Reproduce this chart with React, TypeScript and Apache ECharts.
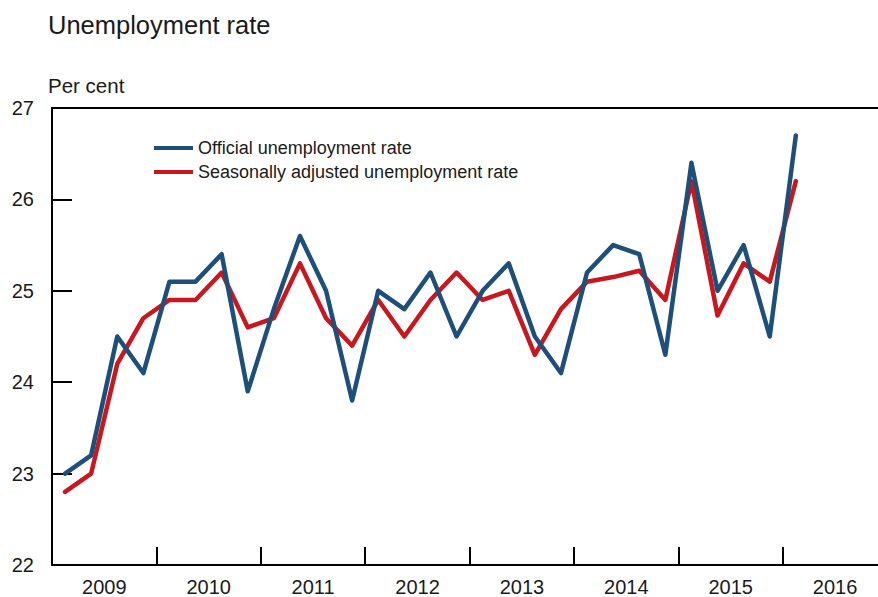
import React, { useEffect, useRef } from "react";
import * as echarts from "echarts";

const quarters = [
  "2009Q1", "2009Q2", "2009Q3", "2009Q4",
  "2010Q1", "2010Q2", "2010Q3", "2010Q4",
  "2011Q1", "2011Q2", "2011Q3", "2011Q4",
  "2012Q1", "2012Q2", "2012Q3", "2012Q4",
  "2013Q1", "2013Q2", "2013Q3", "2013Q4",
  "2014Q1", "2014Q2", "2014Q3", "2014Q4",
  "2015Q1", "2015Q2", "2015Q3", "2015Q4",
  "2016Q1",
];

const official = [
  23.0, 23.2, 24.5, 24.1, 25.1, 25.1, 25.4, 23.9, 24.8, 25.6, 25.0, 23.8, 25.0, 24.8, 25.2,
  24.5, 25.0, 25.3, 24.5, 24.1, 25.2, 25.5, 25.4, 24.3, 26.4, 25.0, 25.5, 24.5, 26.7,
];

const seasonal = [
  22.8, 23.0, 24.2, 24.7, 24.9, 24.9, 25.2, 24.6, 24.7, 25.3, 24.7, 24.4, 24.9, 24.5, 24.9,
  25.2, 24.9, 25.0, 24.3, 24.8, 25.1, 25.15, 25.22, 24.9, 26.2, 24.73, 25.3, 25.1, 26.2,
];

const yMin = 22;
const yMax = 27;
const xMin = 2009;
const xMax = 2016.912;

const quarterToX = (q: string) => {
  const year = parseInt(q.slice(0, 4), 10);
  const qn = parseInt(q.slice(5), 10);
  return year + (qn - 0.5) / 4;
};

export default function App() {
  const ref = useRef<HTMLDivElement>(null);

  useEffect(() => {
    document.body.style.margin = "0";
    if (!ref.current) return;
    const chart = echarts.init(ref.current, undefined, { renderer: "svg" });
    const font = "'Liberation Sans', Arial, sans-serif";
    const yearPx = (878 + 2 - 52) / (xMax - xMin);

    chart.setOption({
      animation: false,
      backgroundColor: "#ffffff",
      title: [
        {
          text: "Unemployment rate",
          left: 48,
          top: 12,
          padding: 0,
          textStyle: { fontFamily: font, fontSize: 25.5, fontWeight: "normal", color: "#1a1a1a" },
        },
        {
          text: "Per cent",
          left: 48,
          top: 75,
          padding: 0,
          textStyle: { fontFamily: font, fontSize: 20.5, fontWeight: "normal", color: "#1a1a1a" },
        },
      ],
      legend: {
        data: ["Official unemployment rate", "Seasonally adjusted unemployment rate"],
        orient: "vertical",
        left: 154,
        top: 139,
        padding: 0,
        itemGap: 6,
        itemWidth: 39,
        itemHeight: 4,
        itemTextGap: 12,
        icon: "rect",
        textStyle: { fontFamily: font, fontSize: 18, color: "#1a1a1a" },
      },
      grid: { left: 52, right: -2, top: 108, bottom: 32, containLabel: false },
      xAxis: [
        {
          type: "value",
          min: xMin,
          max: xMax,
          interval: 1,
          position: "bottom",
          splitLine: { show: false },
          axisLine: { show: true, lineStyle: { color: "#000", width: 2 } },
          axisTick: { show: true, inside: true, length: 18, lineStyle: { color: "#000", width: 2 } },
          axisLabel: {
            show: true,
            showMaxLabel: false,
            fontFamily: font,
            fontSize: 20,
            color: "#1a1a1a",
            margin: 12,
            align: "center",
            padding: [0, 0, 0, yearPx],
            formatter: (v: number) => (Number.isInteger(v) ? String(v) : ""),
          },
        },
        {
          type: "value",
          min: xMin,
          max: xMax,
          position: "top",
          splitLine: { show: false },
          axisLine: { show: true, lineStyle: { color: "#000", width: 2 } },
          axisTick: { show: false },
          axisLabel: { show: false },
        },
      ],
      yAxis: {
        type: "value",
        min: yMin,
        max: yMax,
        interval: 1,
        splitLine: { show: false },
        axisLine: { show: true, lineStyle: { color: "#000", width: 2 } },
        axisTick: { show: true, inside: true, length: 20, lineStyle: { color: "#000", width: 2 } },
        axisLabel: { fontFamily: font, fontSize: 20, color: "#1a1a1a", margin: 18 },
      },
      series: [
        {
          name: "Seasonally adjusted unemployment rate",
          type: "line",
          data: quarters.map((q, i) => [quarterToX(q), seasonal[i]]),
          showSymbol: false,
          symbol: "none",
          color: "#c8171f",
          lineStyle: { color: "#c8171f", width: 4.5, join: "round", cap: "round" },
          z: 2,
        },
        {
          name: "Official unemployment rate",
          type: "line",
          data: quarters.map((q, i) => [quarterToX(q), official[i]]),
          showSymbol: false,
          symbol: "none",
          color: "#1d4f79",
          lineStyle: { color: "#1d4f79", width: 4.5, join: "round", cap: "round" },
          z: 3,
        },
      ],
    });

    return () => chart.dispose();
  }, []);

  return <div ref={ref} style={{ width: 878, height: 597 }} />;
}
